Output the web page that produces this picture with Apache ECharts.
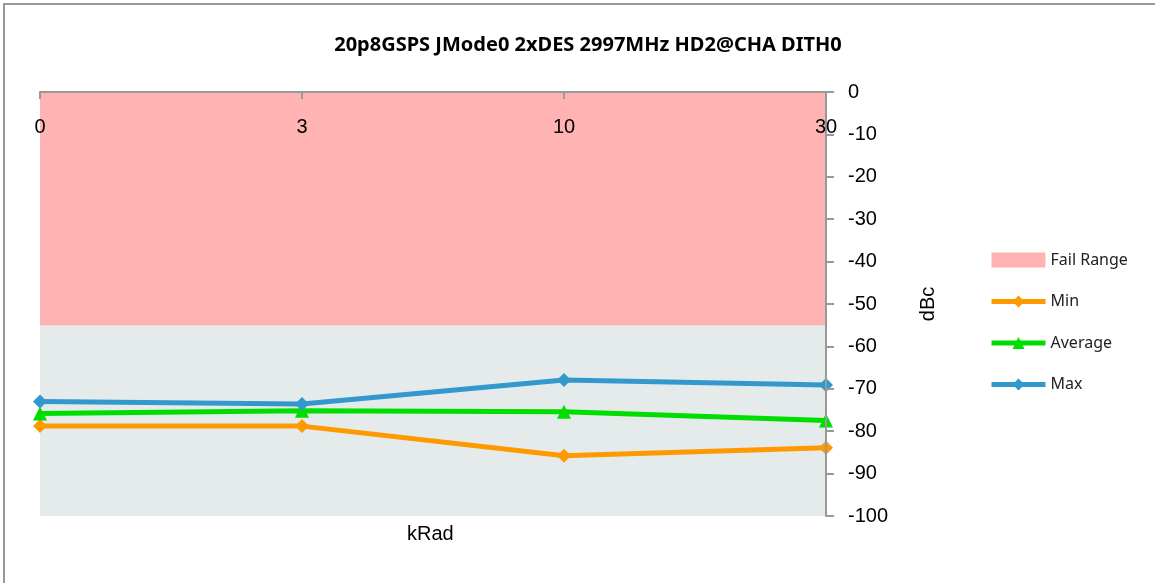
<!DOCTYPE html>
<html>
<head>
<meta charset="utf-8">
<script src="https://cdn.jsdelivr.net/npm/echarts@6/dist/echarts.min.js"></script>
<style>
  html, body { margin: 0; padding: 0; background: #fff; }
  #chart { width: 1155px; height: 583px; }
</style>
</head>
<body>
<div id="chart"></div>
<script>
  // 数据
  const categories = ['0', '3', '10', '30']
  const failRange = [-55, -55, -55, -55]
  const minData = [-78.8, -78.8, -85.8, -83.9]
  const avgData = [-75.8, -75.2, -75.4, -77.5]
  const maxData = [-73.0, -73.6, -67.9, -69.1]
  const yTicks = { min: -100, max: 0, interval: 10 }

  const chart = echarts.init(document.getElementById('chart'))
  const axisColor = '#999999'
  const labelFont = 'Liberation Sans, Arial, sans-serif'
  const colors = { fail: '#ffb3b3', min: '#ff9900', avg: '#00dd00', max: '#3399cc' }

  const option = {
    animation: false,
    title: {
      text: '20p8GSPS JMode0 2xDES 2997MHz HD2@CHA DITH0',
      left: 583,
      top: 30,
      textAlign: 'center',
      textStyle: {
        fontFamily: 'Noto Sans',
        fontWeight: 'bold',
        fontSize: 20,
        color: '#000'
      }
    },
    legend: {
      orient: 'vertical',
      left: 984,
      top: 247,
      itemGap: 25.5,
      itemWidth: 54,
      itemHeight: 15,
      textStyle: { fontFamily: 'Noto Sans', fontSize: 16, color: '#222' },
      data: [
        { name: 'Fail Range', icon: 'rect', itemStyle: { color: colors.fail } },
        { name: 'Min', lineStyle: { width: 5 } },
        { name: 'Average', lineStyle: { width: 5 } },
        { name: 'Max', lineStyle: { width: 5 } }
      ]
    },
    grid: {
      left: 40,
      right: 329,
      top: 92,
      bottom: 67,
      show: true,
      backgroundColor: '#e5ebeb',
      borderWidth: 0
    },
    xAxis: {
      type: 'category',
      position: 'top',
      boundaryGap: false,
      data: categories,
      z: 10,
      axisLine: { show: true, lineStyle: { color: axisColor, width: 2 } },
      axisTick: { show: true, inside: true, length: 7, lineStyle: { color: axisColor, width: 2 } },
      axisLabel: {
        inside: true,
        margin: 25,
        color: '#000',
        fontSize: 20,
        fontFamily: labelFont
      },
      splitLine: { show: false }
    },
    yAxis: {
      type: 'value',
      position: 'right',
      min: yTicks.min,
      max: yTicks.max,
      interval: yTicks.interval,
      z: 10,
      name: 'dBc',
      nameLocation: 'middle',
      nameRotate: 90,
      nameGap: 92,
      nameTextStyle: { color: '#000', fontSize: 20, fontFamily: labelFont },
      axisLine: { show: true, lineStyle: { color: axisColor, width: 2 } },
      axisTick: { show: true, length: 8, lineStyle: { color: axisColor, width: 2 } },
      axisLabel: {
        margin: 22,
        color: '#000',
        fontSize: 20,
        fontFamily: labelFont
      },
      splitLine: { show: false }
    },
    graphic: [
      {
        type: 'text',
        left: 407,
        top: 524,
        style: { text: 'kRad', fontSize: 20, fontFamily: labelFont, fill: '#000' }
      },
      {
        type: 'rect',
        shape: { x: 4, y: 4, width: 1160, height: 600 },
        style: { fill: 'none', stroke: '#999', lineWidth: 2 },
        silent: true
      }
    ],
    series: [
      {
        name: 'Fail Range',
        type: 'line',
        data: failRange,
        symbol: 'none',
        lineStyle: { width: 0 },
        itemStyle: { color: colors.fail },
        areaStyle: { color: colors.fail, opacity: 1, origin: 'end' },
        z: 1
      },
      {
        name: 'Min',
        type: 'line',
        data: minData,
        symbol: 'diamond',
        symbolSize: 14,
        lineStyle: { width: 5, color: colors.min },
        itemStyle: { color: colors.min },
        z: 3
      },
      {
        name: 'Average',
        type: 'line',
        data: avgData,
        symbol: 'triangle',
        symbolSize: 14,
        lineStyle: { width: 5, color: colors.avg },
        itemStyle: { color: colors.avg },
        z: 3
      },
      {
        name: 'Max',
        type: 'line',
        data: maxData,
        symbol: 'diamond',
        symbolSize: 14,
        lineStyle: { width: 5, color: colors.max },
        itemStyle: { color: colors.max },
        z: 3
      }
    ]
  }
  chart.setOption(option)
  window.addEventListener('resize', () => chart.resize())
</script>
</body>
</html>
